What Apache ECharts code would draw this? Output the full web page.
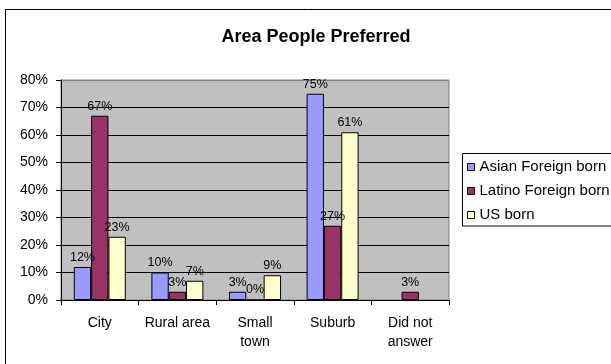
<!DOCTYPE html>
<html>
<head>
<meta charset="utf-8">
<script src="https://cdn.jsdelivr.net/npm/echarts@6/dist/echarts.min.js"></script>
<style>
  html, body { margin: 0; padding: 0; background: #ffffff; }
  #chart { width: 611px; height: 364px; }
</style>
</head>
<body>
<div id="chart"></div>
<script>
// Where people prefer to live, by group (percent of respondents)
const categories = ['City', 'Rural area', 'Small\ntown', 'Suburb', 'Did not\nanswer'];
const asianForeignBorn = [12, 10, 3, 75, null];
const latinoForeignBorn = [67, 3, 0, 27, 3];
const usBorn = [23, 7, 9, 61, null];
const yTicks = [0, 10, 20, 30, 40, 50, 60, 70, 80];

const FONT = '"Liberation Sans", Arial, sans-serif';

const chart = echarts.init(document.getElementById('chart'), null, { renderer: 'canvas' });

function barSeries(name, data, color) {
  return {
    name: name,
    type: 'bar',
    data: data,
    barGap: '0%',
    barCategoryGap: '33%',
    itemStyle: { color: color, borderColor: '#000000', borderWidth: 1 },
    label: {
      show: true,
      position: 'top',
      distance: 3,
      formatter: p => (p.value == null ? '' : p.value + '%'),
      fontFamily: FONT,
      fontSize: 12.5,
      color: '#000000'
    },
    emphasis: { disabled: true },
    animation: false
  };
}

chart.setOption({
  animation: false,
  backgroundColor: '#ffffff',
  title: {
    text: 'Area People Preferred',
    left: 311,
    textAlign: 'center',
    top: 23,
    textStyle: { fontFamily: FONT, fontSize: 18, fontWeight: 'bold', color: '#000000' }
  },
  graphic: [
    {
      // chart frame, running off the right and bottom edges
      type: 'rect',
      shape: { x: 5.5, y: 9.5, width: 640, height: 400 },
      style: { fill: null, stroke: '#000000', lineWidth: 1 },
      silent: true,
      z: -1
    },
    {
      // legend frame, running off the right edge
      type: 'rect',
      shape: { x: 462.5, y: 153.5, width: 200, height: 72.5 },
      style: { fill: '#ffffff', stroke: '#000000', lineWidth: 1 },
      silent: true,
      z: 0
    }
  ],
  legend: {
    orient: 'vertical',
    left: 462,
    top: 153,
    padding: [6, 0, 4, 5],
    borderWidth: 0,
    itemWidth: 7,
    itemHeight: 7,
    itemGap: 8,
    icon: 'rect',
    z: 5,
    itemStyle: { borderColor: '#000000', borderWidth: 1 },
    textStyle: { fontFamily: FONT, fontSize: 15, color: '#000000', lineHeight: 16 },
    data: ['Asian Foreign born', 'Latino Foreign born', 'US born']
  },
  grid: {
    left: 61,
    top: 80,
    right: 162,
    bottom: 64,
    show: true,
    backgroundColor: '#C0C0C0',
    borderColor: '#808080',
    borderWidth: 1,
    containLabel: false
  },
  xAxis: {
    type: 'category',
    data: categories,
    axisLine: { show: true, lineStyle: { color: '#000000', width: 1 } },
    axisTick: { show: true, length: 5, lineStyle: { color: '#000000' } },
    axisLabel: {
      fontFamily: FONT,
      fontSize: 14,
      color: '#000000',
      margin: 14,
      lineHeight: 19,
      interval: 0
    }
  },
  yAxis: {
    type: 'value',
    min: yTicks[0],
    max: yTicks[yTicks.length - 1],
    interval: 10,
    axisLine: { show: true, lineStyle: { color: '#000000', width: 1 } },
    axisTick: { show: true, length: 5, lineStyle: { color: '#000000' } },
    axisLabel: {
      fontFamily: FONT,
      fontSize: 14,
      color: '#000000',
      margin: 13,
      formatter: '{value}%'
    },
    splitLine: {
      show: true,
      lineStyle: {
        color: ['#000000', '#000000', '#000000', '#000000', '#000000', '#000000', '#000000', '#000000', '#808080'],
        width: 1
      }
    }
  },
  series: [
    barSeries('Asian Foreign born', asianForeignBorn, '#9999FF'),
    barSeries('Latino Foreign born', latinoForeignBorn, '#993366'),
    barSeries('US born', usBorn, '#FFFFCC')
  ]
});
</script>
</body>
</html>
